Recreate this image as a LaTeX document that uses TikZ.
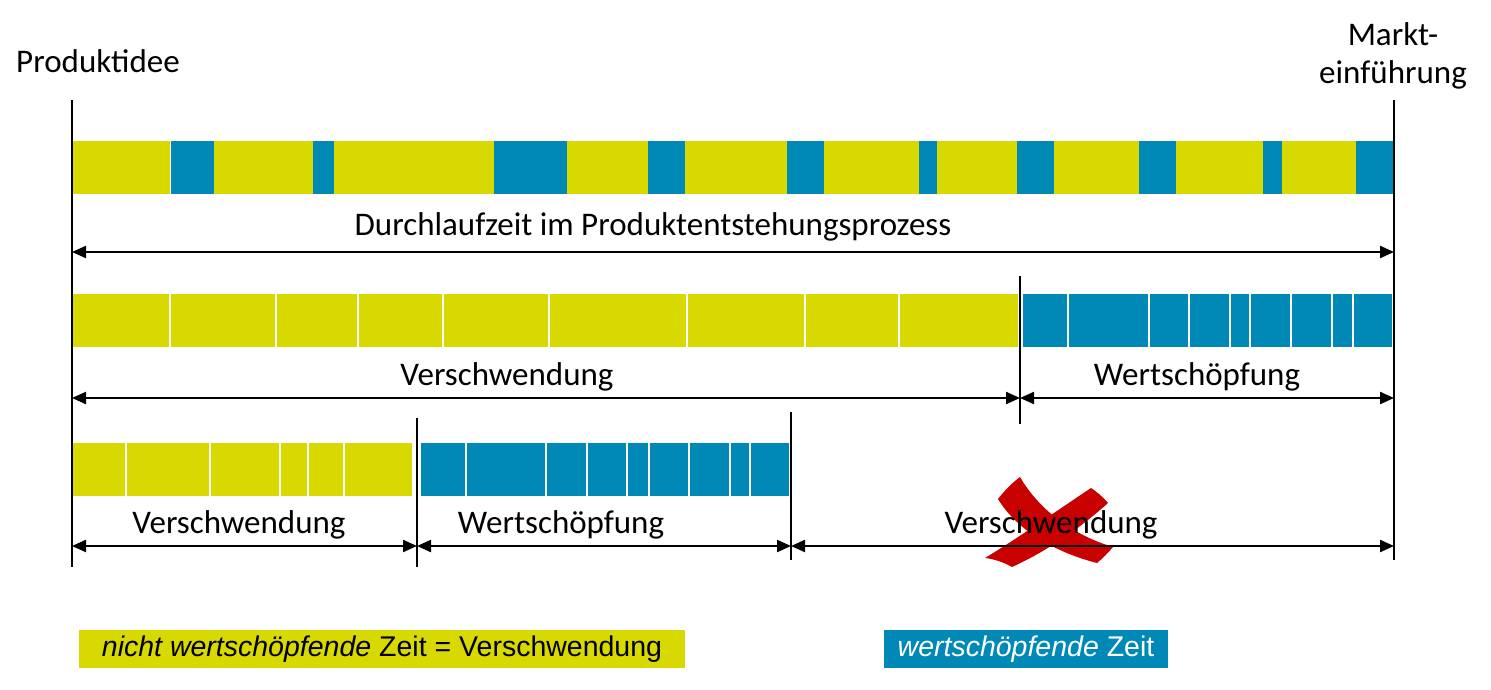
\documentclass[tikz,border=0pt]{standalone}
\usepackage{fontspec}
\setmainfont{Carlito}
\newfontfamily\legendfont{Liberation Sans}
\usetikzlibrary{arrows.meta}
\definecolor{ylw}{RGB}{216,217,0}
\definecolor{blu}{RGB}{0,137,182}
\definecolor{xred}{RGB}{200,0,0}
\begin{document}
\begin{tikzpicture}[x=1pt,y=-1pt,
  lbl/.style={font=\fontsize{33}{38}\selectfont, inner sep=0pt, anchor=base},
  vline/.style={line width=1.5pt},
  dim/.style={line width=2.2pt,{Triangle[length=14pt,width=12pt]}-{Triangle[length=14pt,width=12pt]}},
  gapline/.style={white,line width=2.5pt},
  legtext/.style={font=\legendfont\fontsize{28.5}{32}\selectfont, inner sep=0pt,
                  minimum height=38pt, text height=20pt, text depth=6pt},
]
\useasboundingbox (0,0) rectangle (1491,690);

% ---------- top labels ----------
\node[lbl] (idee) at (98,73) {Produktidee};
\node[lbl] (markt) at (1393,46) {Markt-};
\node[lbl] (einf) at (1393,84) {einführung};

% ---------- row 1 bar ----------
\fill[ylw] (71,141) rectangle (1393,194);
\foreach \a/\b in {171/214,313/334,494/567,648/685,787/824,919/937,1017/1054,1139/1176,1263/1282,1356/1393}
  \fill[blu] (\a,141) rectangle (\b,194);
\draw[white,line width=1pt] (170.5,141) -- (170.5,194);

% ---------- row 2 bar ----------
\fill[ylw] (72,294) rectangle (1018,347);
\fill[blu] (1023,294) rectangle (1392,347);
\foreach \x in {170,276,358,443,549,687,805,899,1068,1149,1189,1230,1250,1291,1332,1353}
  \draw[gapline] (\x,294) -- (\x,347);

% ---------- row 3 bar ----------
\fill[ylw] (72,443) rectangle (412,496);
\fill[blu] (421,443) rectangle (789,496);
\foreach \x in {126,210,280,308,344,466,546,587,627,649,689,730,750}
  \draw[gapline] (\x,443) -- (\x,496);

% ---------- vertical lines ----------
\coordinate (LT) at (72,100);  \coordinate (LB) at (72,567);
\coordinate (RT) at (1394,100); \coordinate (RB) at (1394,560);
\coordinate (MT) at (1020,276); \coordinate (MB) at (1020,424);
\coordinate (AT) at (417,418);  \coordinate (AB) at (417,567);
\coordinate (BT) at (791,412);  \coordinate (BB) at (791,560);
\draw[vline] (LT) -- (LB);
\draw[vline] (RT) -- (RB);
\draw[vline] (MT) -- (MB);
\draw[vline] (AT) -- (AB);
\draw[vline] (BT) -- (BB);

% ---------- red cross ----------
\fill[xred] (998,499) .. controls (1005,490) and (1012,483) .. (1020,477)
  .. controls (1038,508) and (1070,534) .. (1113,547)
  .. controls (1108,553) and (1103,558) .. (1097,563)
  .. controls (1058,553) and (1018,532) .. (998,499) -- cycle;
\fill[xred] (1091,488) .. controls (1097,492) and (1103,497) .. (1108,503)
  .. controls (1078,530) and (1045,552) .. (1012,567)
  .. controls (1003,562) and (994,559) .. (985,558)
  .. controls (1018,538) and (1058,510) .. (1091,488) -- cycle;

% ---------- row labels ----------
\node[lbl] (dlz) at (653,235) {Durchlaufzeit im Produktentstehungsprozess};
\node[lbl] (v2) at (507,385) {Verschwendung};
\node[lbl] (w2) at (1197,385) {Wertschöpfung};
\node[lbl] (v3a) at (239,533) {Verschwendung};
\node[lbl] (w3) at (561,533) {Wertschöpfung};
\node[lbl] (v3b) at (1051,533) {Verschwendung};

% ---------- dimension arrows ----------
\coordinate (d1l) at (72,252);   \coordinate (d1r) at (1394,252);
\coordinate (d2l) at (72,398);   \coordinate (d2m) at (1020,398); \coordinate (d2r) at (1394,398);
\coordinate (d3l) at (72,546);   \coordinate (d3a) at (417,546);  \coordinate (d3b) at (791,546); \coordinate (d3r) at (1394,546);
\draw[dim] (d1l) -- (d1r);
\draw[dim] (d2l) -- (d2m);
\draw[dim] (d2m) -- (d2r);
\draw[dim] (d3l) -- (d3a);
\draw[dim] (d3a) -- (d3b);
\draw[dim] (d3b) -- (d3r);

% ---------- legend ----------
\node[legtext, fill=ylw, minimum width=606pt] (legY) at (382,649)
  {\textit{nicht wertschöpfende} Zeit = Verschwendung};
\node[legtext, fill=blu, text=white, minimum width=284pt] (legB) at (1026,649)
  {\textit{wertschöpfende} Zeit};
\end{tikzpicture}
\end{document}
